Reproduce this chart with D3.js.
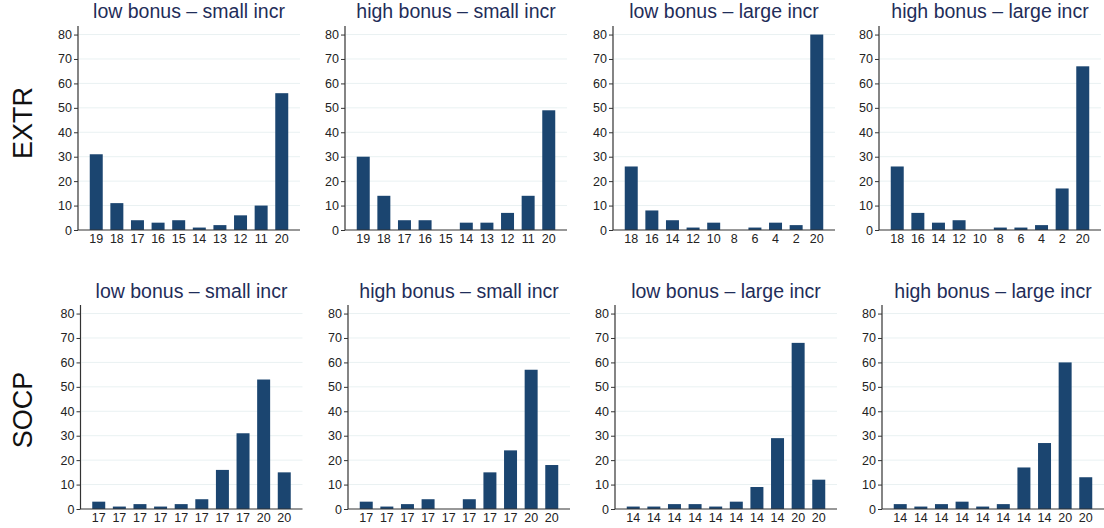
<!DOCTYPE html>
<html>
<head>
<meta charset="utf-8">
<script src="https://cdn.jsdelivr.net/npm/d3@7"></script>
<style>
  html, body { margin: 0; padding: 0; background: #fff; }
  svg { display: block; font-family: "Liberation Sans", Arial, sans-serif; }
</style>
</head>
<body>
<svg id="chart" width="1104" height="528"></svg>
<script>
// Panel titles (columns) and row labels
const columnTitles = ["low bonus \u2013 small incr", "high bonus \u2013 small incr", "low bonus \u2013 large incr", "high bonus \u2013 large incr"];
const rowLabels = ["EXTR", "SOCP"];

// Category labels per panel
const extrSmallLabels = ["19", "18", "17", "16", "15", "14", "13", "12", "11", "20"];
const extrLargeLabels = ["18", "16", "14", "12", "10", "8", "6", "4", "2", "20"];
const socpSmallLabels = ["17", "17", "17", "17", "17", "17", "17", "17", "20", "20"];
const socpLargeLabels = ["14", "14", "14", "14", "14", "14", "14", "14", "20", "20"];

// Bar heights per panel
const extrLowSmall  = [31, 11, 4, 3, 4, 1, 2, 6, 10, 56];
const extrHighSmall = [30, 14, 4, 4, 0, 3, 3, 7, 14, 49];
const extrLowLarge  = [26, 8, 4, 1, 3, 0, 1, 3, 2, 80];
const extrHighLarge = [26, 7, 3, 4, 0, 1, 1, 2, 17, 67];
const socpLowSmall  = [3, 1, 2, 1, 2, 4, 16, 31, 53, 15];
const socpHighSmall = [3, 1, 2, 4, 0, 4, 15, 24, 57, 18];
const socpLowLarge  = [1, 1, 2, 2, 1, 3, 9, 29, 68, 12];
const socpHighLarge = [2, 1, 2, 3, 1, 2, 17, 27, 60, 13];

const yTicks = [0, 10, 20, 30, 40, 50, 60, 70, 80];

const panels = [
  { row: 0, col: 0, labels: extrSmallLabels, values: extrLowSmall },
  { row: 0, col: 1, labels: extrSmallLabels, values: extrHighSmall },
  { row: 0, col: 2, labels: extrLargeLabels, values: extrLowLarge },
  { row: 0, col: 3, labels: extrLargeLabels, values: extrHighLarge },
  { row: 1, col: 0, labels: socpSmallLabels, values: socpLowSmall },
  { row: 1, col: 1, labels: socpSmallLabels, values: socpHighSmall },
  { row: 1, col: 2, labels: socpLargeLabels, values: socpLowLarge },
  { row: 1, col: 3, labels: socpLargeLabels, values: socpHighLarge }
];

// Layout
const axisX = [[78, 345, 613, 879], [80.5, 348, 615, 882]];
const baseY = [230, 509];
const plotW = 222;
const plotH = 204;

const barColor = "#1b4570";
const titleColor = "#1f2d59";
const gridColor = "#e9f1f2";
const axisColor = "#333";
const tickTextColor = "#222";

const svg = d3.select("#chart");

const y = d3.scaleLinear().domain([0, 83.5]).range([plotH, 0]);

panels.forEach(p => {
  const x0 = axisX[p.row][p.col];
  const y0 = baseY[p.row] - plotH;
  const g = svg.append("g").attr("transform", `translate(${x0},${y0})`);

  const idx = d3.range(p.values.length);
  const x = d3.scaleBand().domain(idx).range([0, plotW]).paddingInner(0.37).paddingOuter(0.57);

  // gridlines
  g.append("g").selectAll("line").data(yTicks.filter(t => t > 0)).join("line")
    .attr("x1", 1).attr("x2", plotW)
    .attr("y1", d => y(d)).attr("y2", d => y(d))
    .attr("stroke", gridColor).attr("stroke-width", 1);

  // bars
  g.append("g").selectAll("rect").data(idx).join("rect")
    .attr("x", i => x(i))
    .attr("width", x.bandwidth())
    .attr("y", i => y(p.values[i]))
    .attr("height", i => y(0) - y(p.values[i]))
    .attr("fill", barColor);

  // y axis
  const yAxis = g.append("g").call(d3.axisLeft(y).tickValues(yTicks).tickSize(4).tickPadding(2));
  yAxis.select(".domain").attr("stroke", axisColor).attr("stroke-width", 1.2).attr("d", `M0,${y(83.5)}V${plotH}`);
  yAxis.selectAll(".tick line").attr("stroke", axisColor);
  yAxis.selectAll(".tick text").attr("fill", tickTextColor).style("font-size", "12.5px").style("font-family", "Liberation Sans, Arial, sans-serif");

  // x axis
  const xAxis = g.append("g").attr("transform", `translate(0,${plotH})`)
    .call(d3.axisBottom(x).tickFormat(i => p.labels[i]).tickSize(0).tickPadding(4));
  xAxis.select(".domain").attr("stroke", axisColor).attr("stroke-width", 1.2).attr("d", `M0,0H${plotW}`);
  xAxis.selectAll(".tick text").attr("fill", tickTextColor).style("font-size", "12.5px").style("font-family", "Liberation Sans, Arial, sans-serif");

  // panel title
  svg.append("text")
    .attr("x", x0 + plotW / 2)
    .attr("y", p.row === 0 ? 18 : 298)
    .attr("text-anchor", "middle")
    .attr("fill", titleColor)
    .style("font-size", "19.5px")
    .text(columnTitles[p.col]);
});

// row labels
rowLabels.forEach((lab, r) => {
  svg.append("text")
    .attr("transform", `translate(32,${r === 0 ? 123 : 410}) rotate(-90)`)
    .attr("text-anchor", "middle")
    .attr("fill", "#111")
    .style("font-size", "27px")
    .text(lab);
});
</script>
</body>
</html>
